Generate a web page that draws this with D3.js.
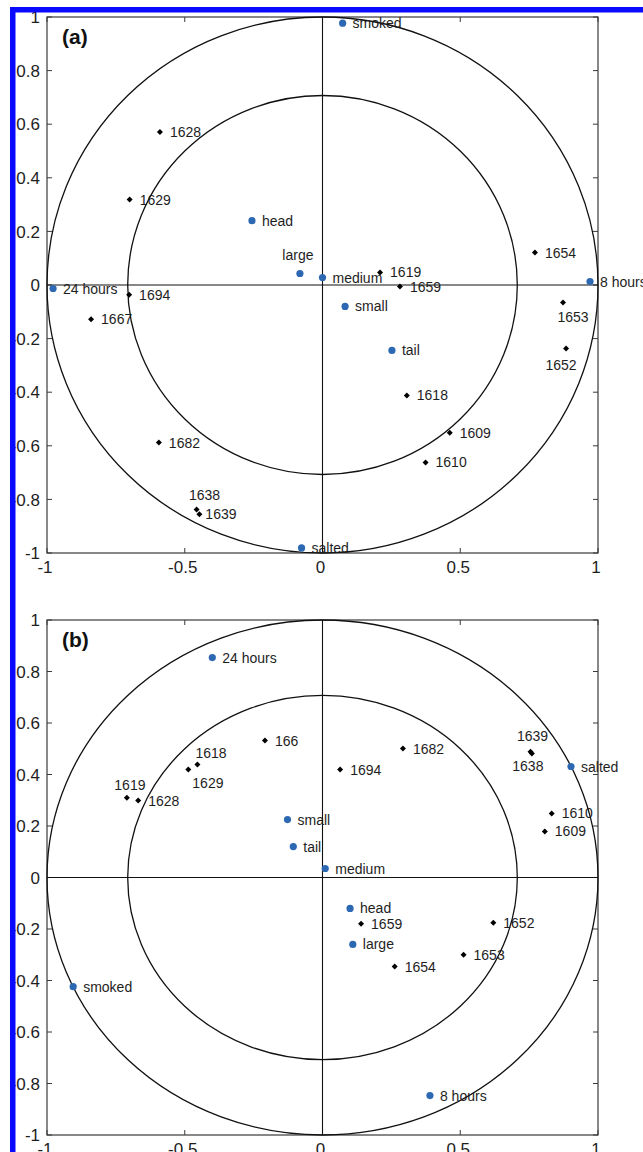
<!DOCTYPE html>
<html lang="en">
<head>
<meta charset="UTF-8">
<title>Correlation loadings (a) and (b)</title>
<style>
  body { margin: 0; background: #fff; }
  svg { display: block; font-family: "Liberation Sans", Arial, sans-serif; }
  .tick-label { font-size: 17px; fill: #1e1e1e; }
  .pt-label { font-size: 14px; fill: #1e1e1e; }
  .panel-tag { font-size: 21px; font-weight: bold; fill: #111; }
</style>
</head>
<body>
<svg width="643" height="1152"></svg>

<script src="https://cdn.jsdelivr.net/npm/d3@7"></script>
<script>

  // tick values
  var xTicks = [-1, -0.5, 0, 0.5, 1];
  var yTicks = [-1, -0.8, -0.6, -0.4, -0.2, 0, 0.2, 0.4, 0.6, 0.8, 1];
  var circleRadii = [1, 0.7071];

  // panel (a) - attributes (blue) and samples (black)
  var attrNamesA = ['smoked', 'head', 'large', 'medium', 'small', 'tail', 'salted', '24 hours', '8 hours'];
  var attrXA = [0.073, -0.256, -0.082, 0.0, 0.082, 0.252, -0.076, -0.978, 0.971];
  var attrYA = [0.977, 0.24, 0.043, 0.028, -0.08, -0.244, -0.981, -0.013, 0.013];

  var sampleNamesA = ['1628', '1629', '1654', '1619', '1659', '1694', '1667', '1653', '1652', '1618', '1682', '1609', '1610', '1638', '1639'];
  var sampleXA = [-0.59, -0.70, 0.771, 0.209, 0.281, -0.702, -0.84, 0.873, 0.884, 0.306, -0.594, 0.462, 0.374, -0.457, -0.447];
  var sampleYA = [0.571, 0.319, 0.121, 0.047, -0.006, -0.036, -0.128, -0.065, -0.237, -0.412, -0.588, -0.551, -0.662, -0.838, -0.855];

  // panel (b)
  var attrNamesB = ['24 hours', 'small', 'tail', 'medium', 'salted', 'head', 'large', 'smoked', '8 hours'];
  var attrXB = [-0.40, -0.127, -0.106, 0.01, 0.902, 0.10, 0.11, -0.905, 0.39];
  var attrYB = [0.854, 0.225, 0.12, 0.035, 0.431, -0.12, -0.26, -0.424, -0.847];

  var sampleNamesB = ['166', '1618', '1629', '1619', '1628', '1682', '1694', '1639', '1638', '1610', '1609', '1659', '1654', '1653', '1652'];
  var sampleXB = [-0.209, -0.454, -0.487, -0.71, -0.669, 0.292, 0.064, 0.755, 0.76, 0.832, 0.807, 0.14, 0.262, 0.512, 0.62];
  var sampleYB = [0.532, 0.439, 0.419, 0.31, 0.299, 0.501, 0.419, 0.488, 0.482, 0.249, 0.179, -0.18, -0.346, -0.30, -0.176];

  // label placement, [dx, dy, anchor]; anything not listed goes to the right
  var placeA = {
    'large': [-2, -19, 'middle'],
    '1653': [10, 15, 'middle'],
    '1652': [-5, 16, 'middle'],
    '1638': [8, -15, 'middle'],
    '1639': [6, 0, 'start']
  };
  var placeB = {
    '1619': [3, -13, 'middle'],
    '1618': [-2, -11, 'start'],
    '1629': [4, 13, 'start'],
    '1639': [2, -16, 'middle'],
    '1638': [-4, 13, 'middle']
  };

  var blue = '#2d68b2';
  var svg = d3.select('svg');

  var x = d3.scaleLinear().domain([-1, 1]).range([47, 598]);

  var fmt = function(v) { return String(v); };

  function pack(names, xs, ys) {
    return names.map(function(n, i) { return {name: n, x: xs[i], y: ys[i]}; });
  }

  function drawPanel(tag, top, bottom, attrs, samples, place) {
    var y = d3.scaleLinear().domain([-1, 1]).range([bottom, top]);
    var g = svg.append('g');

    // frame
    g.append('rect')
      .attr('x', x(-1)).attr('y', y(1))
      .attr('width', x(1) - x(-1)).attr('height', y(-1) - y(1))
      .attr('fill', 'none').attr('stroke', '#3a3a3a').attr('stroke-width', 1.2);

    // inward ticks, all four sides
    var tl = 5;
    yTicks.forEach(function(t) {
      g.append('line').attr('x1', x(-1)).attr('x2', x(-1) + tl).attr('y1', y(t)).attr('y2', y(t))
        .attr('stroke', '#3a3a3a');
      g.append('line').attr('x1', x(1)).attr('x2', x(1) - tl).attr('y1', y(t)).attr('y2', y(t))
        .attr('stroke', '#3a3a3a');
      g.append('text').attr('class', 'tick-label')
        .attr('x', x(-1) - 7).attr('y', y(t)).attr('dy', '0.36em')
        .attr('text-anchor', 'end').text(fmt(t));
    });
    xTicks.forEach(function(t) {
      g.append('line').attr('x1', x(t)).attr('x2', x(t)).attr('y1', y(-1)).attr('y2', y(-1) - tl)
        .attr('stroke', '#3a3a3a');
      g.append('line').attr('x1', x(t)).attr('x2', x(t)).attr('y1', y(1)).attr('y2', y(1) + tl)
        .attr('stroke', '#3a3a3a');
      g.append('text').attr('class', 'tick-label')
        .attr('x', x(t) - 2).attr('y', y(-1) + 20)
        .attr('text-anchor', 'middle').text(fmt(t));
    });

    // zero lines
    g.append('line').attr('x1', x(-1)).attr('x2', x(1)).attr('y1', y(0)).attr('y2', y(0))
      .attr('stroke', '#111').attr('stroke-width', 1.1);
    g.append('line').attr('x1', x(0)).attr('x2', x(0)).attr('y1', y(-1)).attr('y2', y(1))
      .attr('stroke', '#111').attr('stroke-width', 1.1);

    // correlation circles
    g.selectAll('.ring')
      .data(circleRadii)
      .enter()
      .append('ellipse')
      .attr('cx', x(0)).attr('cy', y(0))
      .attr('rx', function(r) { return x(r) - x(0); })
      .attr('ry', function(r) { return y(0) - y(r); })
      .attr('fill', 'none').attr('stroke', '#111').attr('stroke-width', 1.3);

    // sample markers (small diamonds)
    g.selectAll('.sample')
      .data(samples)
      .enter()
      .append('path')
      .attr('d', function(d) {
        var cx = x(d.x), cy = y(d.y), r = 3;
        return 'M' + cx + ',' + (cy - r) + 'L' + (cx + r) + ',' + cy + 'L' + cx + ',' + (cy + r) + 'L' + (cx - r) + ',' + cy + 'Z';
      })
      .attr('fill', '#000');

    // attribute dots
    g.selectAll('.attr')
      .data(attrs)
      .enter()
      .append('circle')
      .attr('cx', function(d) { return x(d.x); })
      .attr('cy', function(d) { return y(d.y); })
      .attr('r', 3.6)
      .attr('fill', blue);

    // labels
    var all = samples.concat(attrs);
    g.selectAll('.pt-label')
      .data(all)
      .enter()
      .append('text')
      .attr('class', 'pt-label')
      .attr('x', function(d) { var p = place[d.name] || [10, 0, 'start']; return x(d.x) + p[0]; })
      .attr('y', function(d) { var p = place[d.name] || [10, 0, 'start']; return y(d.y) + p[1]; })
      .attr('dy', '0.36em')
      .attr('text-anchor', function(d) { var p = place[d.name] || [10, 0, 'start']; return p[2]; })
      .text(function(d) { return d.name; });

    g.append('text').attr('class', 'panel-tag')
      .attr('x', x(-1) + 15).attr('y', y(1) + 27)
      .text(tag);
  }

  drawPanel('(a)', 17, 553, pack(attrNamesA, attrXA, attrYA), pack(sampleNamesA, sampleXA, sampleYA), placeA);
  drawPanel('(b)', 620, 1135, pack(attrNamesB, attrXB, attrYB), pack(sampleNamesB, sampleXB, sampleYB), placeB);

  // blue page border (left and top); it hides what lies left of it
  svg.append('rect').attr('x', 0).attr('y', 0).attr('width', 10).attr('height', 1152).attr('fill', '#fff');
  svg.append('rect').attr('x', 0).attr('y', 0).attr('width', 643).attr('height', 7).attr('fill', '#fff');
  svg.append('rect').attr('x', 10).attr('y', 7).attr('width', 5.5).attr('height', 1145).attr('fill', '#0a0aff');
  svg.append('rect').attr('x', 10).attr('y', 7).attr('width', 633).attr('height', 5.5).attr('fill', '#0a0aff');

</script>
</body>
</html>
